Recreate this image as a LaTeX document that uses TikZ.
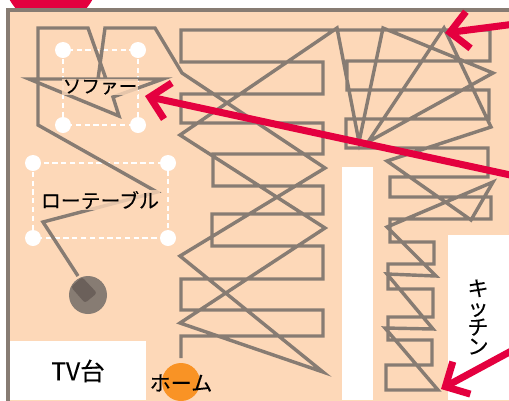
\documentclass[tikz,border=0pt]{standalone}
\usepackage{fontspec}
\setmainfont[FakeBold=.15]{Noto Sans CJK JP}
\usetikzlibrary{arrows.meta}
\definecolor{floorcol}{HTML}{FDD8B8}
\definecolor{wallcol}{HTML}{877C73}
\definecolor{markcol}{HTML}{E4003F}
\definecolor{homecol}{HTML}{F99325}
\definecolor{botcol}{HTML}{6B605A}
\tikzset{
  route/.style={draw=wallcol,line width=1.95pt,miter limit=10},
  selbox/.style={draw=white,line width=.85pt,dash pattern=on 3pt off 2pt},
  handle/.style={fill=white},
  pointer/.style={draw=markcol,line width=4pt,-{Straight Barb[length=10.5pt,width=21pt]}},
  roomtext/.style={inner sep=0pt,font=\fontsize{12pt}{11pt}\selectfont},
  halotext/.style={roomtext,fill=floorcol,fill opacity=.8,text opacity=1,inner sep=.5pt}
}
\begin{document}
\begin{tikzpicture}[x=.02cm,y=-.02cm]
\useasboundingbox (0,0) rectangle (509,400);
\clip (0,0) rectangle (509,400);
\fill [white] (0,0) rectangle (509,400);
% room
\fill [markcol] (51,-22.6) circle (47);
\draw [wallcol,fill=floorcol,line width=2.3pt] (8,10) rectangle (520,410);
\fill [white] (10,341) rectangle (146,400);
\fill [white] (342,167) rectangle (373,400);
\fill [white] (448,235) rectangle (509,400);
% selection frames
\draw [selbox] (63,50) rectangle (138,125);
\foreach \x/\y in {63/50,138/50,63/125,138/125}
  \fill [handle] (\x,\y) circle (8);
\draw [selbox] (33,163) rectangle (168,238);
\foreach \x/\y in {33/163,168/163,33/238,168/238}
  \fill [handle] (\x,\y) circle (8);
% path of the robot
\draw [route] (181,358) -- (181,336) -- (323,336) -- (323,310) -- (181,310) -- (181,279)
  -- (323,279) -- (323,246) -- (212,246) -- (212,214) -- (323,214) -- (323,186)
  -- (213,186) -- (213,154) -- (323,154) -- (323,123) -- (181,123) -- (181,94)
  -- (323,94) -- (323,62) -- (181,62) -- (181,30) -- (490,30) -- (490,61)
  -- (347,61) -- (347,90) -- (489,90) -- (489,119) -- (346,119) -- (346,148)
  -- (488,148) -- (488,177) -- (390,177) -- (390,197) -- (491,197) -- (491,219)
  -- (390,219) -- (390,242) -- (434,242) -- (434,264) -- (388,264) -- (388,289)
  -- (433,289) -- (433,317) -- (388,317) -- (388,340) -- (432,340) -- (432,365)
  -- (386,365) -- (386,390) -- (438,390) -- (385,328) -- (433,329) -- (387,274)
  -- (436,276) -- (387,227) -- (493,182) -- (471,220) -- (387,161) -- (491,127)
  -- (444,28) -- (368,142) -- (493,73) -- (383,28) -- (359,142) -- (337,28)
  -- (180,135) -- (325,228) -- (180,323) -- (323,372) -- (180,256) -- (325,168)
  -- (182,73) -- (155,28) -- (105,28) -- (98,79) -- (163,79) -- (113,97)
  -- (119,116) -- (29,79) -- (106,79) -- (88,28) -- (38,28) -- (38,125)
  -- (157,192) -- (43,222) -- (78,276);
% robot and home
\fill [wallcol] (88,295) circle (19);
\fill [botcol,rounded corners=1.5pt] (82,277) -- (97,293) -- (85,303) -- (71,287) -- cycle;
\fill [homecol] (181,382) circle (19);
% labels
\node [halotext,font=\fontsize{10.6pt}{11pt}\selectfont] (sofa) at (100,87) {ソファー};
\node [halotext,font=\fontsize{11.3pt}{11pt}\selectfont] (table) at (100,200) {ローテーブル};
\node [roomtext,font=\fontsize{14pt}{14pt}\selectfont] (tvstand) at (78,371) {TV台};
\node [roomtext] (home) at (181,383) {ホーム};
\node [roomtext,align=center] (kitchen) at (478,317) {キ\\ッ\\チ\\ン};
% pointers
\coordinate (tipa) at (445,33);
\coordinate (tipb) at (145,96);
\coordinate (tipc) at (441,389);
\draw [pointer] (515,24) -- (tipa);
\draw [pointer] (515,176) -- (tipb);
\draw [pointer] (515,349) -- (tipc);
\end{tikzpicture}
\end{document}
